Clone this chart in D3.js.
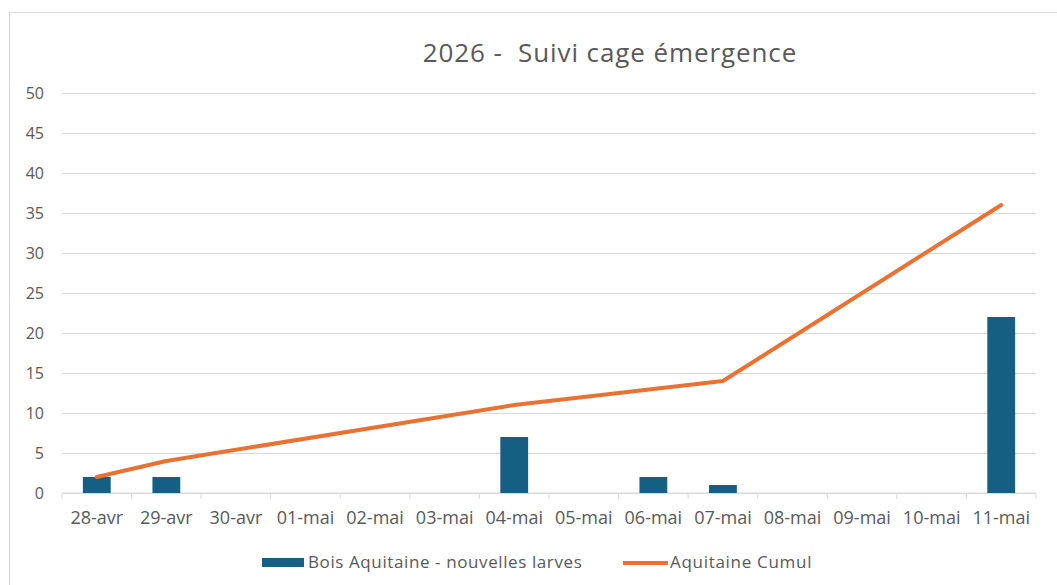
<!DOCTYPE html>
<html><head><meta charset="utf-8">
<script src="https://cdn.jsdelivr.net/npm/d3@7"></script>
<style>body{margin:0;background:#fff;}svg{display:block;font-family:"Open Sans",Roboto,sans-serif;}</style>
</head><body>
<svg id="c" width="1057" height="585"></svg>
<script>
const categories = ["28-avr","29-avr","30-avr","01-mai","02-mai","03-mai","04-mai","05-mai","06-mai","07-mai","08-mai","09-mai","10-mai","11-mai"];
const nouvellesLarves = [2,2,null,null,null,null,7,null,2,1,null,null,null,22];
const cumul = [2,4,null,null,null,null,11,null,13,14,null,null,null,36];
const yTicks = [0,5,10,15,20,25,30,35,40,45,50];
const title = "2026 -  Suivi cage émergence";
const seriesNames = ["Bois Aquitaine - nouvelles larves","Aquitaine Cumul"];

const svg = d3.select("#c");
const barColor = "#156082", lineColor = "#E97132", textColor = "#595959", gridColor = "#D9D9D9";
const m = {left:62, right:1036, top:93, bottom:493};

svg.append("rect").attr("x",9.5).attr("y",12.5).attr("width",1100).attr("height",700)
  .attr("fill","#fff").attr("stroke",gridColor);

const x = d3.scaleBand().domain(categories).range([m.left,m.right]).paddingInner(0.6).paddingOuter(0.3);
const xb = d3.scaleBand().domain(categories).range([m.left,m.right]);
const y = d3.scaleLinear().domain([0,50]).range([m.bottom,m.top]);

svg.append("text").attr("x",610).attr("y",62).attr("text-anchor","middle")
  .attr("font-size",26).attr("letter-spacing",0.9).attr("fill",textColor).style("white-space","pre").text(title);

// grid + y axis
const yAxis = d3.axisLeft(y).tickValues(yTicks).tickSize(-(m.right-m.left)).tickPadding(18);
const gy = svg.append("g").attr("transform",`translate(${m.left},0)`).call(yAxis);
gy.select(".domain").remove();
gy.selectAll(".tick line").attr("stroke",gridColor).attr("stroke-width",1);
gy.selectAll(".tick text").attr("fill",textColor).attr("font-size",16).attr("font-family","'Open Sans',sans-serif");

// x axis
const gx = svg.append("g").attr("transform",`translate(0,${m.bottom})`);
gx.append("line").attr("x1",m.left).attr("x2",m.right).attr("stroke",gridColor);
const edges = categories.map(c=>xb(c)).concat([m.right]);
gx.selectAll("line.tk").data(edges).enter().append("line").attr("class","tk")
  .attr("x1",d=>d).attr("x2",d=>d).attr("y1",0).attr("y2",6).attr("stroke",gridColor);
gx.selectAll("text").data(categories).enter().append("text")
  .attr("x",d=>xb(d)+xb.bandwidth()/2).attr("y",31).attr("text-anchor","middle")
  .attr("font-size",18).attr("fill",textColor).text(d=>d);

// bars
svg.append("g").selectAll("rect").data(categories.map((c,i)=>({c,v:nouvellesLarves[i]})).filter(d=>d.v!=null))
  .enter().append("rect")
  .attr("x",d=>x(d.c)).attr("width",x.bandwidth())
  .attr("y",d=>y(d.v)).attr("height",d=>y(0)-y(d.v)).attr("fill",barColor);

// line (gaps connected)
const pts = categories.map((c,i)=>({c,v:cumul[i]})).filter(d=>d.v!=null);
svg.append("path").datum(pts)
  .attr("d",d3.line().x(d=>xb(d.c)+xb.bandwidth()/2).y(d=>y(d.v)))
  .attr("fill","none").attr("stroke",lineColor).attr("stroke-width",4).attr("stroke-linecap","round").attr("stroke-linejoin","round");

// legend
const lg = svg.append("g");
lg.append("rect").attr("x",262).attr("y",558).attr("width",42).attr("height",9).attr("fill",barColor);
lg.append("text").attr("x",308).attr("y",568).attr("font-size",17).attr("letter-spacing",0.6).attr("fill",textColor).text(seriesNames[0]);
lg.append("line").attr("x1",623).attr("x2",668).attr("y1",563).attr("y2",563).attr("stroke",lineColor).attr("stroke-width",4);
lg.append("text").attr("x",670).attr("y",568).attr("font-size",17).attr("letter-spacing",0.7).attr("fill",textColor).text(seriesNames[1]);
</script>
</body></html>
